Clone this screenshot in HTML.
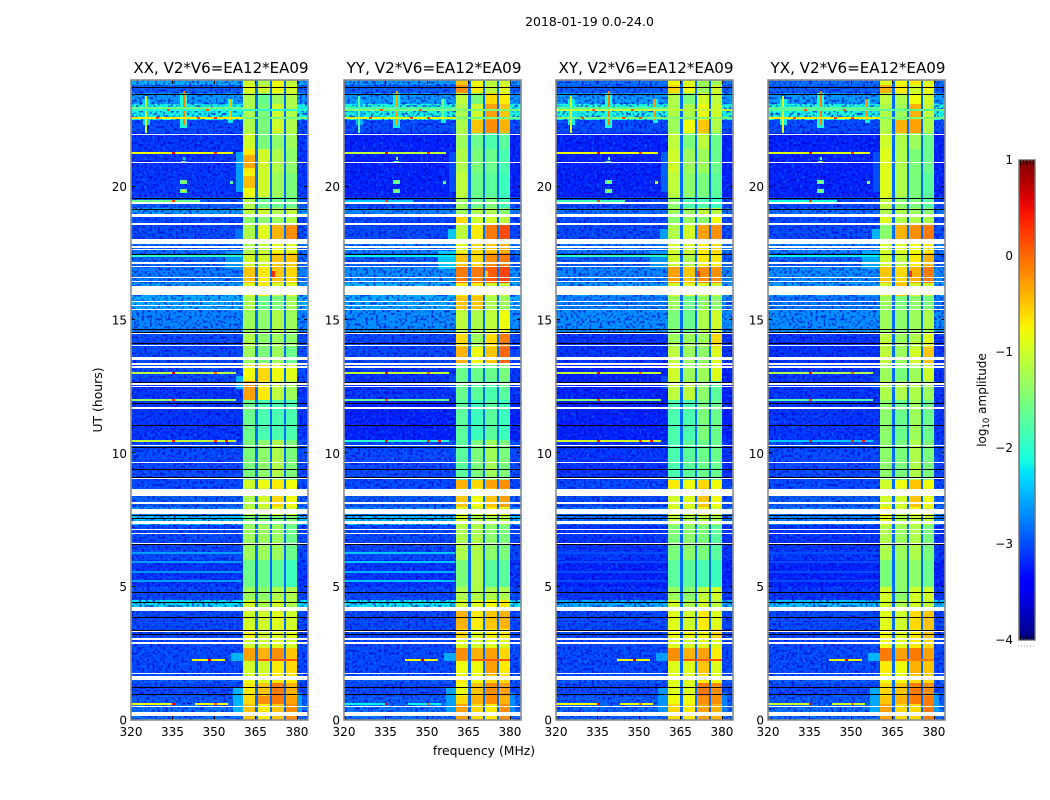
<!DOCTYPE html>
<html lang="en">
<head>
<meta charset="utf-8">
<title>2018-01-19 0.0-24.0 amplitude waterfall</title>
<style>
html,body{margin:0;padding:0;background:#fff;width:1050px;height:800px;overflow:hidden}
svg{display:block}
text{font-family:"DejaVu Sans","Liberation Sans",sans-serif;fill:#000}
.tick{font-size:12px}
.axis{font-size:12.4px}
.title{font-size:15px}
</style>
</head>
<body>
<svg id="chart" width="1050" height="800" viewBox="0 0 1050 800" xmlns="http://www.w3.org/2000/svg">
<defs>
<filter id="speckle-light" x="0" y="0" width="100%" height="100%" color-interpolation-filters="sRGB">
<feTurbulence type="fractalNoise" baseFrequency="0.38" numOctaves="1" seed="4"/>
<feColorMatrix values="0 0 0 0 0  0 0 0 0 0.55  0 0 0 0 1  5 0 0 0 -2.7"/>
</filter>
<filter id="speckle-dark" x="0" y="0" width="100%" height="100%" color-interpolation-filters="sRGB">
<feTurbulence type="fractalNoise" baseFrequency="0.38" numOctaves="1" seed="11"/>
<feColorMatrix values="0 0 0 0 0  0 0 0 0 0  0 0 0 0 0.8  5 0 0 0 -2.4"/>
</filter>
<linearGradient id="jet-gradient" x1="0" y1="1" x2="0" y2="0"></linearGradient>
</defs>
<text x="589.5" y="26" text-anchor="middle" font-size="12.5">2018-01-19 0.0-24.0</text>
<g id="panels"></g>
<text x="484" y="755" text-anchor="middle" class="axis">frequency (MHz)</text>
<text transform="translate(102,400) rotate(-90)" text-anchor="middle" class="axis">UT (hours)</text>
<g id="colorbar"></g>
<text transform="translate(986,400) rotate(-90)" text-anchor="middle" class="tick">log<tspan font-size="8.5" dy="3">10</tspan><tspan dy="-3"> amplitude</tspan></text>
</svg>
<script>
// ---------- data (log10 amplitude, hours, MHz) ----------
const panelTitles = ["XX, V2*V6=EA12*EA09", "YY, V2*V6=EA12*EA09", "XY, V2*V6=EA12*EA09", "YX, V2*V6=EA12*EA09"];
const xTickLabels = [320, 335, 350, 365, 380];
const yTickLabels = [0, 5, 10, 15, 20];
const colorbarTicks = [1, 0, -1, -2, -3, -4];

// UT edges of the time blocks, top to bottom
const timeEdges = [24,23.8,23.5,23.1,22.5,22,21.4,20.5,19.6,19.2,18.9,18.6,18,17.5,17,16.4,15.9,15.4,14.5,14,13.4,12.7,12,10.5,9,8.7,8,7.7,7.3,6,5,4.5,4.2,3.4,3,2.7,2.2,1.7,1.4,0.9,0.6,0];
// frequency columns: background, sub-band, gap, sub-band, gap, sub-band, gap, sub-band, background
const freqEdges = [320,360.5,364.8,365.9,370.3,371,375.3,376,380,384];
const gapLevel = -2.85;

// each row: background, band 1, band 2, band 3, band 4
const xxLevels = [
[-2.5,-1.0,-1.2,-0.8,-1.1],[-2.9,-0.9,-1.0,-0.8,-1.0],[-2.6,-1.2,-1.6,-1.3,-1.2],[-2.15,-1.2,-1.5,-1.0,-1.2],
[-3.0,-1.2,-1.5,-1.0,-1.2],[-3.1,-1.0,-1.5,-1.4,-1.3],[-3.1,-0.7,-1.0,-1.2,-1.4],[-3.1,-0.8,-1.0,-1.3,-1.5],
[-2.9,-1.2,-1.6,-1.6,-1.6],[-2.6,-1.1,-1.0,-1.2,-1.1],[-3.0,-1.4,-1.4,-1.3,-1.2],[-3.0,-1.2,-0.9,-0.4,-0.2],
[-2.8,-1.2,-1.1,-0.8,-0.9],[-2.85,-1.0,-1.0,-0.5,-0.5],[-2.75,-0.5,-0.7,-0.5,-0.6],[-2.6,-0.9,-0.7,-1.0,-0.9],
[-2.5,-1.2,-1.6,-1.5,-1.3],[-2.7,-1.3,-1.4,-1.2,-1.3],[-3.0,-1.2,-1.4,-1.3,-1.4],[-3.0,-1.3,-1.5,-1.3,-1.6],
[-3.0,-0.8,-0.6,-0.8,-0.9],[-3.1,-0.3,-0.7,-1.1,-1.3],[-3.1,-1.6,-1.8,-1.8,-1.8],[-3.0,-1.5,-1.4,-1.2,-1.5],
[-3.0,-1.0,-0.8,-0.7,-0.8],[-2.9,-1.2,-1.0,-0.6,-0.8],[-2.7,-1.1,-1.1,-0.9,-1.0],[-2.4,-1.5,-1.5,-1.5,-1.5],
[-3.0,-1.3,-1.3,-1.3,-1.6],[-3.1,-1.6,-1.6,-1.7,-1.9],[-3.0,-1.3,-1.4,-1.2,-1.2],[-2.25,-1.0,-1.2,-1.0,-1.2],
[-3.0,-1.0,-1.0,-0.9,-1.0],[-3.0,-0.8,-1.0,-0.9,-0.9],[-3.0,-1.0,-1.0,-0.9,-1.0],[-3.0,-0.3,-0.4,-0.2,-0.5],
[-3.0,-1.0,-1.0,-0.7,-0.6],[-2.9,-0.8,-0.9,-0.7,-0.7],[-3.0,-0.7,-0.5,-0.1,-0.4],[-2.9,-0.6,-0.2,-0.1,-0.3],
[-2.8,-0.5,-0.7,-0.5,-0.2]];
const yyLevels = [
[-2.6,-0.5,-0.8,-1.1,-1.0],[-2.9,-0.2,-0.7,-1.1,-0.9],[-2.6,-1.1,-1.5,-0.6,-0.7],[-2.1,-1.2,-1.0,-0.3,-0.5],
[-3.0,-1.2,-0.5,-0.2,-0.4],[-3.2,-1.3,-1.6,-1.8,-1.7],[-3.2,-1.2,-1.5,-1.6,-1.8],[-3.2,-1.1,-1.6,-1.7,-1.9],
[-3.0,-1.3,-1.6,-1.5,-1.8],[-2.7,-1.3,-1.2,-1.2,-1.4],[-3.0,-0.6,-1.0,-1.0,-1.1],[-3.0,-1.1,-0.7,-0.1,0.15],
[-2.7,-0.9,-0.6,-0.5,-0.4],[-2.9,-0.5,-0.6,-0.2,-0.1],[-2.65,-0.1,-0.1,0.05,0.2],[-2.5,-0.7,-0.7,-1.0,-1.0],
[-2.5,-0.5,-0.5,-1.2,-1.3],[-2.65,-1.1,-1.2,-1.1,-0.8],[-3.0,-0.6,-1.3,-0.6,-0.1],[-3.0,-0.4,-0.8,-0.5,0.0],
[-3.1,-1.6,-1.6,-1.6,-1.5],[-3.1,-1.6,-1.7,-1.8,-1.7],[-3.2,-1.7,-1.9,-1.7,-1.9],[-3.0,-1.7,-1.5,-1.3,-1.5],
[-3.0,-0.4,-0.6,-0.3,-0.2],[-2.9,-0.5,-0.8,-0.5,-0.3],[-2.7,-0.9,-1.0,-0.7,-0.9],[-2.4,-1.0,-1.2,-1.2,-1.2],
[-3.0,-1.2,-1.2,-1.4,-1.5],[-3.1,-1.5,-1.2,-1.7,-1.7],[-3.0,-1.2,-1.2,-1.2,-1.2],[-2.2,-1.0,-0.9,-0.8,-0.7],
[-3.0,-0.4,-0.7,-0.5,-0.4],[-3.0,-0.6,-0.9,-0.7,-0.7],[-3.0,-0.9,-1.0,-0.9,-0.9],[-3.0,-0.2,-0.4,-0.3,-0.6],
[-3.0,-0.8,-0.8,-0.3,-0.7],[-2.9,-0.7,-0.8,-0.6,-0.6],[-3.0,-0.8,-0.5,-0.2,-0.3],[-2.9,-0.6,-0.4,-0.2,-0.4],
[-2.8,-0.3,-0.6,-0.7,-0.2]];
const xyLevels = [
[-2.8,-0.8,-0.9,-1.3,-1.3],[-2.9,-0.6,-0.8,-1.3,-1.0],[-2.6,-1.2,-1.5,-1.0,-1.1],[-2.1,-1.2,-1.2,-0.8,-1.0],
[-3.0,-1.3,-0.8,-0.5,-1.2],[-3.2,-1.1,-1.5,-1.1,-1.6],[-3.2,-1.0,-1.3,-1.3,-1.6],[-3.2,-1.1,-1.4,-1.5,-1.7],
[-3.0,-1.4,-1.8,-1.8,-1.9],[-2.8,-1.3,-1.3,-1.1,-1.1],[-3.0,-1.4,-1.3,-1.4,-0.8],[-3.0,-1.2,-1.0,-0.3,-0.2],
[-2.75,-1.0,-1.0,-0.7,-0.6],[-2.9,-1.0,-1.2,-0.7,-0.7],[-2.7,-0.3,-0.5,-0.2,-0.2],[-2.6,-1.0,-0.9,-1.0,-1.0],
[-2.7,-1.3,-1.6,-1.4,-1.4],[-2.65,-1.5,-1.6,-1.2,-1.0],[-3.1,-1.3,-1.3,-1.3,-0.6],[-3.1,-1.1,-1.3,-1.4,-0.9],
[-3.2,-1.0,-1.3,-1.3,-0.9],[-3.2,-1.1,-1.1,-1.4,-1.7],[-3.2,-1.8,-1.8,-1.5,-1.6],[-3.1,-1.8,-1.7,-1.6,-1.6],
[-3.0,-0.7,-0.8,-0.6,-0.8],[-3.0,-1.0,-0.9,-0.5,-0.8],[-2.8,-0.9,-1.0,-0.8,-1.0],[-2.8,-1.1,-1.2,-1.2,-1.2],
[-3.1,-1.5,-1.4,-1.5,-1.7],[-3.2,-1.7,-1.7,-1.8,-1.9],[-3.1,-1.3,-1.4,-1.1,-1.0],[-2.5,-1.0,-1.2,-1.0,-1.1],
[-3.0,-0.9,-1.0,-0.7,-0.9],[-3.0,-0.8,-0.8,-0.8,-0.6],[-3.0,-0.9,-1.0,-0.9,-0.9],[-3.0,-0.2,-0.4,-0.3,-0.7],
[-3.0,-0.9,-0.9,-0.5,-0.9],[-2.9,-0.9,-0.9,-0.7,-0.8],[-3.0,-0.9,-0.9,-0.1,-0.2],[-2.9,-0.8,-0.8,-0.2,-0.2],
[-2.85,-0.6,-0.7,-0.3,-0.4]];
const yxLevels = [
[-2.8,-0.9,-0.8,-0.7,-0.9],[-2.9,-0.4,-0.7,-1.0,-0.8],[-2.6,-1.1,-1.2,-0.8,-1.0],[-2.1,-1.2,-1.3,-0.4,-1.1],
[-3.0,-1.2,-0.4,-0.3,-1.2],[-3.2,-1.0,-1.2,-1.3,-1.6],[-3.2,-0.9,-1.2,-1.5,-1.6],[-3.2,-0.9,-1.2,-1.5,-1.7],
[-3.0,-1.1,-1.4,-1.5,-1.7],[-2.8,-1.2,-1.2,-1.3,-1.4],[-3.0,-0.9,-1.2,-1.2,-1.2],[-3.0,-1.4,-0.4,-0.2,-0.1],
[-2.7,-1.0,-0.9,-0.8,-0.7],[-2.9,-1.0,-1.1,-0.7,-0.4],[-2.65,-0.5,-0.6,-0.4,-0.1],[-2.6,-1.0,-0.5,-1.0,-1.0],
[-2.75,-1.3,-1.5,-1.4,-1.5],[-2.65,-1.3,-1.4,-1.3,-1.2],[-3.1,-1.1,-1.3,-1.2,-0.9],[-3.1,-1.1,-1.3,-1.0,-0.5],
[-3.1,-1.3,-1.5,-1.3,-1.0],[-3.1,-1.2,-1.2,-1.2,-1.3],[-3.1,-1.4,-1.6,-1.3,-1.6],[-3.0,-1.4,-1.5,-1.2,-1.5],
[-3.0,-1.0,-0.8,-0.5,-0.8],[-2.9,-1.0,-1.0,-0.5,-0.8],[-2.75,-0.7,-1.0,-0.8,-0.9],[-2.7,-0.9,-1.2,-1.1,-1.1],
[-3.1,-1.2,-1.3,-1.2,-1.5],[-3.2,-1.5,-1.4,-1.4,-1.6],[-3.1,-1.0,-1.4,-1.0,-1.0],[-2.4,-1.0,-1.2,-1.0,-1.1],
[-3.0,-0.9,-1.0,-0.6,-0.5],[-3.0,-0.8,-0.9,-0.7,-0.5],[-3.0,-0.8,-0.9,-0.7,-0.6],[-3.0,-0.1,-0.3,-0.1,-0.3],
[-3.0,-0.7,-0.8,-0.4,-0.5],[-2.9,-0.8,-0.8,-0.6,-0.6],[-3.0,-0.6,-0.5,-0.1,-0.2],[-2.9,-0.5,-0.4,-0.1,-0.1],
[-2.8,-0.3,-0.6,-0.6,-0.1]];
const panelLevels = [xxLevels, yyLevels, xyLevels, yxLevels];

// interference patches: UT top, UT bottom, freq low, freq high, level in XX/YY/XY/YX
const rfiPatches = [
[23.3,22.3,324.3,326.7,[-2.3,-2.5,-2.2,-2.2]],
[23.5,22.2,337.6,340.4,[-2.1,-2.2,-2.1,-2.1]],
[23.3,22.4,355,357,[-2.2,-2.2,-2.2,-2.2]],
[23.4,22.0,325.2,325.9,[-1.0,-1.7,-0.9,-0.9]],
[23.6,22.3,338.7,339.4,[-0.1,-0.3,-0.1,-0.1]],
[23.3,22.5,355.6,356.1,[-0.5,-1.5,-0.2,-0.2]],
[20.25,20.1,337.8,340.2,[-1.8,-1.8,-1.8,-1.8]],
[20.2,20.13,338.6,339.4,[-1.0,-1.0,-1.0,-1.0]],
[19.92,19.75,337.8,340.2,[-1.8,-1.8,-1.8,-1.8]],
[19.86,19.8,338.6,339.4,[-1.0,-1.0,-1.0,-1.0]],
[20.2,20.1,355.8,356.8,[-1.7,-1.7,-1.1,-1.4]],
[20.95,20.87,338.2,339.8,[-1.7,-1.8,-1.7,-1.7]],
[21.1,21.0,338.7,339.4,[-2.3,-1.5,-1.7,-1.7]],
[21.3,19.8,358,360.5,[-2.6,-3.0,-2.9,-3.0]],
[21.2,20.7,360.5,364.8,[-0.35,-1.2,-1.0,-0.9]],
[20.4,19.95,360.5,364.8,[-0.45,-1.1,-1.1,-0.9]],
[2.5,2.2,356,360.5,[-2.5,-2.55,-2.6,-2.5]],
[1.2,0.3,357,360.5,[-2.5,-2.6,-2.65,-2.55]],
[1.0,0.3,380,382,[-2.6,-2.7,-2.75,-2.6]],
[12.9,12.4,358,360.5,[-2.5,-3.0,-3.0,-3.0]],
[17.6,16.9,354,360.5,[-2.65,-2.4,-2.65,-2.55]],
[18.4,17.9,357.5,360.5,[-2.8,-2.4,-2.6,-2.5]],
[16.85,16.6,371,372,[0.3,-0.5,0.3,0.3]]
];
// narrow-band lines: UT, freq low, freq high, level in XX/YY/XY/YX
const rfiLines = [
[23.0,320,360.5,[-1.6,-1.8,-1.7,-1.7]],
[22.9,320,384,[-2.0,-1.5,-1.1,-1.7]],
[22.6,320,360.5,[-0.7,-0.9,-1.5,-0.7]],
[22.6,360.5,384,[-1.6,-1.6,-1.5,-1.5]],
[21.3,320,357,[-0.8,-1.1,-0.8,-0.9]],
[19.5,320,345,[-1.6,-2.4,-1.9,-2.1]],
[17.45,320,360,[-2.0,-2.2,-2.0,-2.2]],
[13.05,320,358,[-1.1,-1.1,-1.1,-1.2]],
[12.03,320,358,[-1.3,-1.6,-1.4,-1.8]],
[10.5,320,358,[-1.1,-2.0,-1.0,-2.4]],
[6.3,320,360,[-2.6,-2.4,-3.0,-3.0]],
[5.95,320,360,[-2.6,-2.4,-3.0,-3.0]],
[5.6,320,360,[-2.65,-2.5,-3.0,-3.0]],
[5.25,320,360,[-2.6,-2.4,-3.0,-3.0]],
[2.3,342,354,[-0.8,-0.8,-0.8,-0.8]],
[2.3,365.9,380,[0.1,0.1,0.1,-0.1]],
[0.65,320,336,[-0.8,-2.2,-0.8,-1.0]],
[0.65,343,355,[-0.8,-2.2,-0.8,-1.0]]
];
// single-channel spikes: UT, frequency, level
const rfiSpots = [
[21.3,335,0.5],[21.3,350,0.3],[19.5,335,0.2],[13.05,335,0.5],[13.05,350,0.0],[12.03,335,0.2],
[10.5,335,0.4],[10.5,350,0.3],[10.5,354,0.4],[2.3,348,0.6],[0.65,335,0.5],[0.65,350,0.0],
[22.6,329,0.2],[22.6,344,0.2],[22.6,350,0.2],[22.9,333,0.1],[22.9,347,0.1]
];
// flagged (blank) time ranges: UT low, UT high
const flaggedRanges = [
[21.94,21.99],[20.87,20.93],[19.35,19.41],[18.86,18.99],[18.56,18.62],[17.85,18.02],[17.7,17.76],[17.63,17.68],
[17.1,17.16],[16.99,17.04],[16.58,16.63],[16.43,16.48],[15.94,16.28],[15.66,15.71],[15.53,15.58],[15.38,15.43],
[14.49,14.55],[14.03,14.08],[13.5,13.62],[13.31,13.37],[13.21,13.26],[12.56,12.62],[12.49,12.54],[11.66,11.72],
[10.26,10.31],[9.64,9.69],[9.04,9.09],[8.48,8.66],[8.4,8.46],[8.1,8.16],[7.73,7.9],[7.35,7.47],[7.13,7.18],
[6.98,7.03],[6.56,6.62],[4.08,4.23],[3.29,3.36],[3.0,3.06],[2.85,2.94],[1.73,1.78],[1.5,1.65],[0.47,0.53],[0.16,0.29]
];
// zero-amplitude integrations, drawn black
const zeroHours = [23.75,23.46,19.56,19.15,17.48,14.65,14.56,14.13,12.69,11.88,11.05,10.23,9.4,9.1,7.69,7.56,6.6,4.81,4.44,3.87,3.38,3.23,1.23,0.99];

// ---------- scales ----------
const SVGNS = "http://www.w3.org/2000/svg";
const panelLefts = [131, 344, 556, 768];
const panelWidth = 177, plotTop = 80, plotBottom = 720;
const FMIN = 320, FMAX = 384, TMIN = 0, TMAX = 24;
function xScale(panel, f){ return panelLefts[panel] + (f - FMIN) / (FMAX - FMIN) * panelWidth; }
function yScale(h){ return plotBottom - (h - TMIN) / (TMAX - TMIN) * (plotBottom - plotTop); }

const CB_TOP = 160, CB_BOTTOM = 640, CB_LEFT = 1019, CB_WIDTH = 16, VMIN = -4, VMAX = 1;
function cbScale(v){ return CB_BOTTOM - (v - VMIN) / (VMAX - VMIN) * (CB_BOTTOM - CB_TOP); }

function seg(points, t){
  for (let i = 1; i < points.length; i++) {
    if (t <= points[i][0]) {
      const a = points[i-1], b = points[i];
      return a[1] + (b[1]-a[1]) * (t-a[0]) / (b[0]-a[0]);
    }
  }
  return points[points.length-1][1];
}
const JR = [[0,0],[0.35,0],[0.66,1],[0.89,1],[1,0.5]];
const JG = [[0,0],[0.125,0],[0.375,1],[0.64,1],[0.91,0],[1,0]];
const JB = [[0,0.5],[0.11,1],[0.34,1],[0.65,0],[1,0]];
function jetAt(t){
  t = Math.max(0, Math.min(1, t));
  return "rgb(" + Math.round(255*seg(JR,t)) + "," + Math.round(255*seg(JG,t)) + "," + Math.round(255*seg(JB,t)) + ")";
}
function color(v){ return jetAt((v - VMIN) / (VMAX - VMIN)); }

function mk(parent, tag, attrs){
  const el = document.createElementNS(SVGNS, tag);
  for (const k in attrs) el.setAttribute(k, attrs[k]);
  parent.appendChild(el);
  return el;
}
function box(parent, x0, y0, x1, y1, fill){
  const l = Math.round(x0), t = Math.round(y0);
  return mk(parent, "rect", {x:l, y:t, width:Math.max(1, Math.round(x1)-l), height:Math.max(1, Math.round(y1)-t), fill:fill});
}

// ---------- panels ----------
const panelsRoot = document.getElementById("panels");
panelTitles.forEach(function(title, p){
  const left = panelLefts[p], right = left + panelWidth;
  const g = mk(panelsRoot, "g", {});
  
  
  const heat = mk(g, "g", {"shape-rendering":"crispEdges"});
  
  

  // time block x frequency column cells
  panelLevels[p].forEach(function(row, r){
    const yTop = yScale(timeEdges[r]), yBot = yScale(timeEdges[r+1]);
    const cols = [row[0], row[1], gapLevel, row[2], gapLevel, row[3], gapLevel, row[4], row[0]];
    cols.forEach(function(v, c){
      const cell = box(heat, xScale(p, freqEdges[c]), yTop, xScale(p, freqEdges[c+1]), yBot, color(v));
      
      
    });
  });

  // speckle texture over the out-of-band background
  [[FMIN, 360.5], [380, FMAX]].forEach(function(range){
    const x0 = Math.round(xScale(p, range[0])), x1 = Math.round(xScale(p, range[1]));
    const light = mk(g, "rect", {x:x0, y:plotTop, width:x1-x0, height:plotBottom-plotTop, filter:"url(#speckle-light)", opacity:0.5});
    
    
    const dark = mk(g, "rect", {x:x0, y:plotTop, width:x1-x0, height:plotBottom-plotTop, filter:"url(#speckle-dark)", opacity:0.65});
    
    
  });

  const marks = mk(g, "g", {"shape-rendering":"crispEdges"});
  
  

  rfiPatches.forEach(function(d){
    const patch = box(marks, xScale(p, d[2]), yScale(d[0]), xScale(p, d[3]), yScale(d[1]), color(d[4][p]));
    
    
  });
  rfiLines.forEach(function(d){
    const y = yScale(d[0]);
    const line = box(marks, xScale(p, d[1]), y, xScale(p, d[2]), y + 2, color(d[3][p]));
    
    
  });
  rfiSpots.forEach(function(d){
    const x = xScale(p, d[1]), y = yScale(d[0]);
    const spot = box(marks, x, y, x + 3, y + 2, color(d[2]));
    
    
  });
  flaggedRanges.forEach(function(d){
    const flag = box(marks, left, yScale(d[1]), right, yScale(d[0]), "#ffffff");
    
    
  });
  zeroHours.forEach(function(h){
    const y = yScale(h);
    const zero = box(marks, left, y, right, y + 1, "#000000");
    
    
  });

  // ticks and labels
  xTickLabels.forEach(function(f){
    const x = Math.round(xScale(p, f)) + 0.5;
    const bottomTick = mk(g, "line", {x1:x, x2:x, y1:plotBottom, y2:plotBottom-4, stroke:"#000"});
    
    
    const topTick = mk(g, "line", {x1:x, x2:x, y1:plotTop, y2:plotTop+4, stroke:"#000"});
    
    
    const label = mk(g, "text", {x:xScale(p, f), y:736, "text-anchor":"middle", "class":"tick"});
    label.textContent = f;
    
    
  });
  yTickLabels.forEach(function(h){
    const y = Math.round(yScale(h)) - 0.5;
    const leftTick = mk(g, "line", {x1:left, x2:left+4, y1:y, y2:y, stroke:"#000"});
    
    
    const rightTick = mk(g, "line", {x1:right, x2:right-4, y1:y, y2:y, stroke:"#000"});
    
    
    const label = mk(g, "text", {x:left-4, y:yScale(h)+4.5, "text-anchor":"end", "class":"tick"});
    label.textContent = h;
    
    
  });

  const frame = mk(g, "rect", {x:left, y:plotTop, width:panelWidth, height:plotBottom-plotTop, fill:"none", stroke:"#8c8c8c", "stroke-width":1.6});
  
  

  const head = mk(g, "text", {x:left + panelWidth/2 + 1.5, y:73, "text-anchor":"middle", "class":"title", textLength:175, lengthAdjust:"spacingAndGlyphs"});
  head.textContent = title;
  
  
});

// ---------- colorbar ----------
const grad = document.getElementById("jet-gradient");
for (let i = 0; i <= 40; i++) {
  mk(grad, "stop", {offset:(i/40), "stop-color":jetAt(i/40)});
}
const cb = document.getElementById("colorbar");
const ramp = mk(cb, "rect", {x:CB_LEFT, y:CB_TOP, width:CB_WIDTH, height:CB_BOTTOM-CB_TOP, fill:"url(#jet-gradient)", stroke:"#6e6e6e", "stroke-width":1.4});


for (let i = 0; i < 5; i++) {
  const tx = CB_LEFT + 1.5 + i * 3.2;
  const tt = mk(cb, "line", {x1:tx, x2:tx, y1:CB_TOP, y2:CB_TOP+5, stroke:"#000", "stroke-width":0.8});
  
  
  const bt = mk(cb, "line", {x1:tx, x2:tx, y1:CB_BOTTOM, y2:CB_BOTTOM-5, stroke:"#000", "stroke-width":0.8});
  
  
}
colorbarTicks.forEach(function(v){
  const label = mk(cb, "text", {x:CB_LEFT-6, y:cbScale(v)+4, "text-anchor":"end", "class":"tick"});
  label.textContent = v < 0 ? "\u2212" + Math.abs(v) : String(v);
  
  
});
const dots = mk(cb, "line", {x1:1018, x2:1035, y1:646, y2:646, stroke:"#9a9a9a", "stroke-dasharray":"1 2"});


</script>
</body>
</html>
